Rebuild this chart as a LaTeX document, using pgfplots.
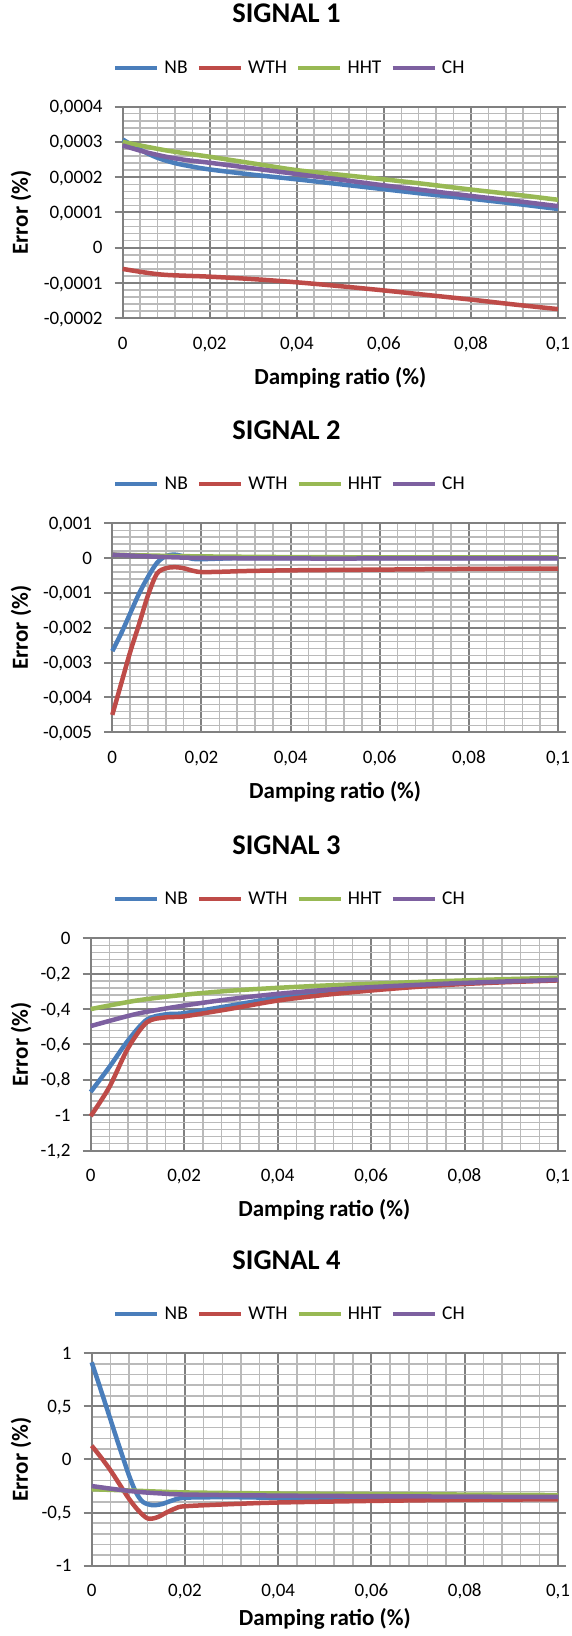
\documentclass[border=0pt]{standalone}
\usepackage{pgfplots}
\pgfplotsset{compat=1.18}
\usepackage{fontspec}
\setmainfont{Carlito}
\definecolor{cNB}{RGB}{74,126,187}
\definecolor{cWTH}{RGB}{190,75,72}
\definecolor{cHHT}{RGB}{152,185,84}
\definecolor{cCH}{RGB}{125,96,160}
\definecolor{gmaj}{RGB}{128,128,128}
\definecolor{gmin}{RGB}{186,186,186}
\pgfplotsset{
  excel/.style={
    scale only axis,
    xmin=0, xmax=0.1,
    xtick={0,0.02,0.04,0.06,0.08,0.1},
    xticklabels={0,{0,02},{0,04},{0,06},{0,08},{0,1}},
    scaled x ticks=false, scaled y ticks=false,
    minor x tick num=4, minor y tick num=4,
    grid=both,
    major grid style={gmaj,line width=2pt},
    minor grid style={gmin,line width=1.5pt},
    axis line style={gmaj,line width=2pt},
    tick style={gmaj,line width=2pt},
    xtick style={draw=none},
    tick align=outside,
    major tick length=8pt, minor tick length=0pt,
    tick label style={font=\fontsize{19}{19}\selectfont, inner sep=0pt},
    xticklabel style={anchor=base, yshift=-23pt},
    yticklabel style={anchor=base east, xshift=-12pt, yshift=-6pt},
    xlabel={Damping ratio (\%)},
    ylabel={Error (\%)},
    label style={font=\fontsize{23}{23}\bfseries\selectfont},
    xlabel style={anchor=center},
    ylabel style={anchor=center},
    title style={anchor=center, font=\fontsize{28.5}{28.5}\bfseries\selectfont},
    legend columns=4,
    legend style={draw=none, fill=none, anchor=center,
      font=\fontsize{19.5}{19.5}\selectfont,
      nodes={inner sep=0pt},
      /tikz/every odd column/.append style={column sep=5pt},
      /tikz/every even column/.append style={column sep=9pt}},
    legend image code/.code={\draw[##1,line width=4.5pt] (0pt,0pt) -- (42pt,0pt);},
    every axis plot/.append style={line width=4.5pt, smooth, no markers, line join=round},
    clip=false,
  }
}
\begin{document}
\begin{tikzpicture}
\path[use as bounding box] (0,0) rectangle (572pt,1636pt);

% ---------------- SIGNAL 1
\begin{axis}[excel,
  at={(122.7pt,1317.7pt)}, anchor=south west,
  width=435.3pt, height=211.6pt,
  ymin=-0.0002, ymax=0.0004,
  ytick={-0.0002,-0.0001,0,0.0001,0.0002,0.0003,0.0004},
  yticklabels={{-0,0002},{-0,0001},0,{0,0001},{0,0002},{0,0003},{0,0004}},
  title={SIGNAL 1},
  title style={at={(axis description cs:0.3763,1.411)}},
  legend style={at={(axis description cs:0.3814,1.184)}},
  xlabel style={at={(axis description cs:0.5,-0.282)}},
  ylabel style={at={(axis description cs:-0.2336,0.5)}},
]
\addplot[cNB] coordinates {(0,0.000307) (0.004,0.000278) (0.008,0.000255) (0.012,0.00024) (0.016,0.00023) (0.02,0.000222) (0.03,0.000207) (0.04,0.000194) (0.05,0.00018) (0.06,0.000166) (0.07,0.000152) (0.08,0.000139) (0.09,0.000125) (0.1,0.00011)};
\addlegendentry{NB}
\addplot[cWTH] coordinates {(0,-0.00006) (0.005,-0.00007) (0.01,-0.000077) (0.02,-0.000082) (0.03,-0.000089) (0.04,-0.000098) (0.05,-0.000109) (0.06,-0.000121) (0.07,-0.000134) (0.08,-0.000147) (0.09,-0.000161) (0.1,-0.000174)};
\addlegendentry{WTH}
\addplot[cHHT] coordinates {(0,0.0003) (0.01,0.000276) (0.02,0.000258) (0.03,0.000239) (0.04,0.00022) (0.05,0.000207) (0.06,0.000194) (0.07,0.00018) (0.08,0.000165) (0.09,0.000151) (0.1,0.000136)};
\addlegendentry{HHT}
\addplot[cCH] coordinates {(0,0.00029) (0.005,0.000272) (0.01,0.000258) (0.015,0.000248) (0.02,0.000241) (0.03,0.000225) (0.04,0.000209) (0.05,0.000193) (0.06,0.000177) (0.07,0.000162) (0.08,0.000147) (0.09,0.000133) (0.1,0.000118)};
\addlegendentry{CH}
\end{axis}

% ---------------- SIGNAL 2
\begin{axis}[excel,
  at={(112.3pt,903.7pt)}, anchor=south west,
  width=445.7pt, height=209pt,
  ymin=-0.005, ymax=0.001,
  ytick={-0.005,-0.004,-0.003,-0.002,-0.001,0,0.001},
  yticklabels={{-0,005},{-0,004},{-0,003},{-0,002},{-0,001},0,{0,001}},
  title={SIGNAL 2},
  title style={at={(axis description cs:0.3909,1.416)}},
  legend style={at={(axis description cs:0.3965,1.187)}},
  xlabel style={at={(axis description cs:0.5,-0.2855)}},
  ylabel style={at={(axis description cs:-0.2048,0.5)}},
]
\addplot[cNB] coordinates {(0,-0.00267) (0.002,-0.00216) (0.004,-0.00159) (0.006,-0.00102) (0.008,-0.00054) (0.01,-0.00014) (0.012,0.00006) (0.014,0.0001) (0.016,0.00005) (0.018,-0.00002) (0.02,-0.00003) (0.025,-0.00001) (0.03,0) (0.05,0) (0.07,0) (0.1,0)};
\addlegendentry{NB}
\addplot[cWTH] coordinates {(0,-0.0045) (0.002,-0.0036) (0.004,-0.0027) (0.006,-0.0019) (0.008,-0.00107) (0.01,-0.00045) (0.012,-0.00029) (0.014,-0.00026) (0.016,-0.00029) (0.018,-0.00036) (0.02,-0.0004) (0.025,-0.00039) (0.03,-0.00037) (0.04,-0.00035) (0.06,-0.00033) (0.08,-0.00031) (0.1,-0.0003)};
\addlegendentry{WTH}
\addplot[cHHT] coordinates {(0,0.0001) (0.01,0.00007) (0.02,0.00005) (0.04,0.00003) (0.07,0.00002) (0.1,0.00002)};
\addlegendentry{HHT}
\addplot[cCH] coordinates {(0,0.0001) (0.01,0.00004) (0.02,0.000005) (0.04,-0.00001) (0.07,-0.00001) (0.1,-0.00001)};
\addlegendentry{CH}
\end{axis}

% ---------------- SIGNAL 3
\begin{axis}[excel,
  at={(90.7pt,485.3pt)}, anchor=south west,
  width=467.3pt, height=212.4pt,
  ymin=-1.2, ymax=0,
  ytick={-1.2,-1,-0.8,-0.6,-0.4,-0.2,0},
  yticklabels={{-1,2},-1,{-0,8},{-0,6},{-0,4},{-0,2},0},
  title={SIGNAL 3},
  title style={at={(axis description cs:0.4190,1.4096)}},
  legend style={at={(axis description cs:0.4244,1.184)}},
  xlabel style={at={(axis description cs:0.5,-0.281)}},
  ylabel style={at={(axis description cs:-0.149,0.5)}},
]
\addplot[cNB] coordinates {(0,-0.868) (0.004,-0.727) (0.008,-0.577) (0.012,-0.46) (0.016,-0.43) (0.02,-0.423) (0.03,-0.38) (0.04,-0.335) (0.05,-0.302) (0.06,-0.28) (0.07,-0.263) (0.08,-0.25) (0.09,-0.242) (0.1,-0.235)};
\addlegendentry{NB}
\addplot[cWTH] coordinates {(0,-1.005) (0.004,-0.84) (0.008,-0.62) (0.012,-0.475) (0.016,-0.447) (0.02,-0.441) (0.03,-0.398) (0.04,-0.352) (0.05,-0.32) (0.06,-0.295) (0.07,-0.274) (0.08,-0.258) (0.09,-0.247) (0.1,-0.238)};
\addlegendentry{WTH}
\addplot[cHHT] coordinates {(0,-0.4) (0.01,-0.351) (0.02,-0.319) (0.03,-0.296) (0.04,-0.28) (0.05,-0.267) (0.06,-0.257) (0.07,-0.247) (0.08,-0.238) (0.09,-0.23) (0.1,-0.223)};
\addlegendentry{HHT}
\addplot[cCH] coordinates {(0,-0.496) (0.01,-0.426) (0.02,-0.38) (0.03,-0.343) (0.04,-0.314) (0.05,-0.292) (0.06,-0.276) (0.07,-0.263) (0.08,-0.252) (0.09,-0.243) (0.1,-0.235)};
\addlegendentry{CH}
\end{axis}

% ---------------- SIGNAL 4
\begin{axis}[excel,
  at={(91.7pt,70.3pt)}, anchor=south west,
  width=466.3pt, height=212.4pt,
  ymin=-1, ymax=1,
  ytick={-1,-0.5,0,0.5,1},
  yticklabels={-1,{-0,5},0,{0,5},1},
  title={SIGNAL 4},
  title style={at={(axis description cs:0.4178,1.4096)}},
  legend style={at={(axis description cs:0.4231,1.184)}},
  xlabel style={at={(axis description cs:0.5,-0.252)}},
  ylabel style={at={(axis description cs:-0.1516,0.5)}},
]
\addplot[cNB] coordinates {(0,0.915) (0.002,0.65) (0.004,0.38) (0.006,0.11) (0.008,-0.15) (0.0095,-0.31) (0.011,-0.4) (0.013,-0.43) (0.015,-0.42) (0.017,-0.39) (0.02,-0.36) (0.03,-0.355) (0.04,-0.36) (0.06,-0.36) (0.08,-0.36) (0.1,-0.36)};
\addlegendentry{NB}
\addplot[cWTH] coordinates {(0,0.13) (0.002,0.02) (0.004,-0.1) (0.006,-0.235) (0.008,-0.37) (0.01,-0.48) (0.012,-0.555) (0.014,-0.545) (0.016,-0.5) (0.018,-0.46) (0.02,-0.44) (0.03,-0.42) (0.04,-0.405) (0.06,-0.39) (0.08,-0.38) (0.1,-0.375)};
\addlegendentry{WTH}
\addplot[cHHT] coordinates {(0,-0.28) (0.01,-0.295) (0.02,-0.31) (0.04,-0.32) (0.06,-0.325) (0.08,-0.33) (0.1,-0.335)};
\addlegendentry{HHT}
\addplot[cCH] coordinates {(0,-0.25) (0.005,-0.28) (0.01,-0.305) (0.015,-0.32) (0.02,-0.33) (0.04,-0.34) (0.06,-0.345) (0.08,-0.35) (0.1,-0.352)};
\addlegendentry{CH}
\end{axis}
\end{tikzpicture}
\end{document}
